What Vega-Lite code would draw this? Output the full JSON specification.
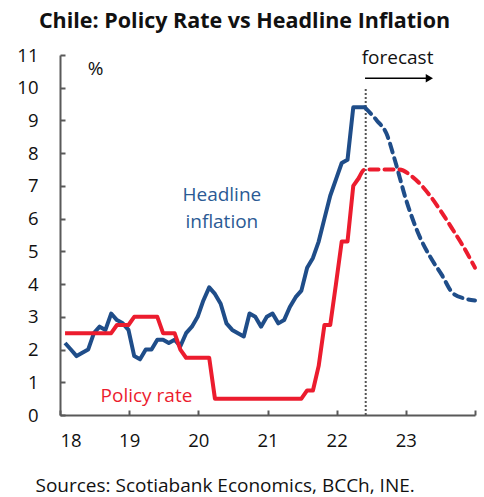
{
  "$schema": "https://vega.github.io/schema/vega-lite/v6.json",
  "width": 415,
  "height": 360,
  "autosize": "none",
  "padding": {"left": 60, "top": 55, "right": 9, "bottom": 82},
  "background": "white",
  "config": {"font": "Open Sans", "view": {"stroke": null}},
  "title": {"text": "Chile: Policy Rate vs Headline Inflation", "font": "Open Sans", "fontSize": 21.5, "fontWeight": "bold", "color": "#111", "anchor": "middle", "dx": -23, "offset": 14},
  "datasets": {
    "series": [
      {"t": 18.073, "v": 2.2, "s": "Inflation", "p": "actual"},
      {"t": 18.157, "v": 2.0, "s": "Inflation", "p": "actual"},
      {"t": 18.24, "v": 1.8, "s": "Inflation", "p": "actual"},
      {"t": 18.323, "v": 1.9, "s": "Inflation", "p": "actual"},
      {"t": 18.407, "v": 2.0, "s": "Inflation", "p": "actual"},
      {"t": 18.49, "v": 2.5, "s": "Inflation", "p": "actual"},
      {"t": 18.573, "v": 2.7, "s": "Inflation", "p": "actual"},
      {"t": 18.657, "v": 2.6, "s": "Inflation", "p": "actual"},
      {"t": 18.74, "v": 3.1, "s": "Inflation", "p": "actual"},
      {"t": 18.823, "v": 2.9, "s": "Inflation", "p": "actual"},
      {"t": 18.907, "v": 2.8, "s": "Inflation", "p": "actual"},
      {"t": 18.99, "v": 2.6, "s": "Inflation", "p": "actual"},
      {"t": 19.073, "v": 1.8, "s": "Inflation", "p": "actual"},
      {"t": 19.157, "v": 1.7, "s": "Inflation", "p": "actual"},
      {"t": 19.24, "v": 2.0, "s": "Inflation", "p": "actual"},
      {"t": 19.323, "v": 2.0, "s": "Inflation", "p": "actual"},
      {"t": 19.407, "v": 2.3, "s": "Inflation", "p": "actual"},
      {"t": 19.49, "v": 2.3, "s": "Inflation", "p": "actual"},
      {"t": 19.573, "v": 2.2, "s": "Inflation", "p": "actual"},
      {"t": 19.657, "v": 2.3, "s": "Inflation", "p": "actual"},
      {"t": 19.74, "v": 2.1, "s": "Inflation", "p": "actual"},
      {"t": 19.823, "v": 2.5, "s": "Inflation", "p": "actual"},
      {"t": 19.907, "v": 2.7, "s": "Inflation", "p": "actual"},
      {"t": 19.99, "v": 3.0, "s": "Inflation", "p": "actual"},
      {"t": 20.073, "v": 3.5, "s": "Inflation", "p": "actual"},
      {"t": 20.157, "v": 3.9, "s": "Inflation", "p": "actual"},
      {"t": 20.24, "v": 3.7, "s": "Inflation", "p": "actual"},
      {"t": 20.323, "v": 3.4, "s": "Inflation", "p": "actual"},
      {"t": 20.407, "v": 2.8, "s": "Inflation", "p": "actual"},
      {"t": 20.49, "v": 2.6, "s": "Inflation", "p": "actual"},
      {"t": 20.573, "v": 2.5, "s": "Inflation", "p": "actual"},
      {"t": 20.657, "v": 2.4, "s": "Inflation", "p": "actual"},
      {"t": 20.74, "v": 3.1, "s": "Inflation", "p": "actual"},
      {"t": 20.823, "v": 3.0, "s": "Inflation", "p": "actual"},
      {"t": 20.907, "v": 2.7, "s": "Inflation", "p": "actual"},
      {"t": 20.99, "v": 3.0, "s": "Inflation", "p": "actual"},
      {"t": 21.073, "v": 3.1, "s": "Inflation", "p": "actual"},
      {"t": 21.157, "v": 2.8, "s": "Inflation", "p": "actual"},
      {"t": 21.24, "v": 2.9, "s": "Inflation", "p": "actual"},
      {"t": 21.323, "v": 3.3, "s": "Inflation", "p": "actual"},
      {"t": 21.407, "v": 3.6, "s": "Inflation", "p": "actual"},
      {"t": 21.49, "v": 3.8, "s": "Inflation", "p": "actual"},
      {"t": 21.573, "v": 4.5, "s": "Inflation", "p": "actual"},
      {"t": 21.657, "v": 4.8, "s": "Inflation", "p": "actual"},
      {"t": 21.74, "v": 5.3, "s": "Inflation", "p": "actual"},
      {"t": 21.823, "v": 6.0, "s": "Inflation", "p": "actual"},
      {"t": 21.907, "v": 6.7, "s": "Inflation", "p": "actual"},
      {"t": 21.99, "v": 7.2, "s": "Inflation", "p": "actual"},
      {"t": 22.073, "v": 7.7, "s": "Inflation", "p": "actual"},
      {"t": 22.157, "v": 7.8, "s": "Inflation", "p": "actual"},
      {"t": 22.24, "v": 9.4, "s": "Inflation", "p": "actual"},
      {"t": 22.323, "v": 9.4, "s": "Inflation", "p": "actual"},
      {"t": 22.407, "v": 9.4, "s": "Inflation", "p": "actual"},
      {"t": 22.407, "v": 9.4, "s": "Inflation", "p": "forecast"},
      {"t": 22.58, "v": 9.0, "s": "Inflation", "p": "forecast"},
      {"t": 22.72, "v": 8.6, "s": "Inflation", "p": "forecast"},
      {"t": 22.84, "v": 7.8, "s": "Inflation", "p": "forecast"},
      {"t": 23.0, "v": 6.6, "s": "Inflation", "p": "forecast"},
      {"t": 23.2, "v": 5.45, "s": "Inflation", "p": "forecast"},
      {"t": 23.35, "v": 4.84, "s": "Inflation", "p": "forecast"},
      {"t": 23.52, "v": 4.28, "s": "Inflation", "p": "forecast"},
      {"t": 23.68, "v": 3.72, "s": "Inflation", "p": "forecast"},
      {"t": 23.85, "v": 3.56, "s": "Inflation", "p": "forecast"},
      {"t": 24.0, "v": 3.5, "s": "Inflation", "p": "forecast"},
      {"t": 18.073, "v": 2.5, "s": "Policy", "p": "actual"},
      {"t": 18.157, "v": 2.5, "s": "Policy", "p": "actual"},
      {"t": 18.24, "v": 2.5, "s": "Policy", "p": "actual"},
      {"t": 18.323, "v": 2.5, "s": "Policy", "p": "actual"},
      {"t": 18.407, "v": 2.5, "s": "Policy", "p": "actual"},
      {"t": 18.49, "v": 2.5, "s": "Policy", "p": "actual"},
      {"t": 18.573, "v": 2.5, "s": "Policy", "p": "actual"},
      {"t": 18.657, "v": 2.5, "s": "Policy", "p": "actual"},
      {"t": 18.74, "v": 2.5, "s": "Policy", "p": "actual"},
      {"t": 18.823, "v": 2.75, "s": "Policy", "p": "actual"},
      {"t": 18.907, "v": 2.75, "s": "Policy", "p": "actual"},
      {"t": 18.99, "v": 2.75, "s": "Policy", "p": "actual"},
      {"t": 19.073, "v": 3.0, "s": "Policy", "p": "actual"},
      {"t": 19.157, "v": 3.0, "s": "Policy", "p": "actual"},
      {"t": 19.24, "v": 3.0, "s": "Policy", "p": "actual"},
      {"t": 19.323, "v": 3.0, "s": "Policy", "p": "actual"},
      {"t": 19.407, "v": 3.0, "s": "Policy", "p": "actual"},
      {"t": 19.49, "v": 2.5, "s": "Policy", "p": "actual"},
      {"t": 19.573, "v": 2.5, "s": "Policy", "p": "actual"},
      {"t": 19.657, "v": 2.5, "s": "Policy", "p": "actual"},
      {"t": 19.74, "v": 2.0, "s": "Policy", "p": "actual"},
      {"t": 19.823, "v": 1.75, "s": "Policy", "p": "actual"},
      {"t": 19.907, "v": 1.75, "s": "Policy", "p": "actual"},
      {"t": 19.99, "v": 1.75, "s": "Policy", "p": "actual"},
      {"t": 20.073, "v": 1.75, "s": "Policy", "p": "actual"},
      {"t": 20.157, "v": 1.75, "s": "Policy", "p": "actual"},
      {"t": 20.24, "v": 0.5, "s": "Policy", "p": "actual"},
      {"t": 20.323, "v": 0.5, "s": "Policy", "p": "actual"},
      {"t": 20.407, "v": 0.5, "s": "Policy", "p": "actual"},
      {"t": 20.49, "v": 0.5, "s": "Policy", "p": "actual"},
      {"t": 20.573, "v": 0.5, "s": "Policy", "p": "actual"},
      {"t": 20.657, "v": 0.5, "s": "Policy", "p": "actual"},
      {"t": 20.74, "v": 0.5, "s": "Policy", "p": "actual"},
      {"t": 20.823, "v": 0.5, "s": "Policy", "p": "actual"},
      {"t": 20.907, "v": 0.5, "s": "Policy", "p": "actual"},
      {"t": 20.99, "v": 0.5, "s": "Policy", "p": "actual"},
      {"t": 21.073, "v": 0.5, "s": "Policy", "p": "actual"},
      {"t": 21.157, "v": 0.5, "s": "Policy", "p": "actual"},
      {"t": 21.24, "v": 0.5, "s": "Policy", "p": "actual"},
      {"t": 21.323, "v": 0.5, "s": "Policy", "p": "actual"},
      {"t": 21.407, "v": 0.5, "s": "Policy", "p": "actual"},
      {"t": 21.49, "v": 0.5, "s": "Policy", "p": "actual"},
      {"t": 21.573, "v": 0.75, "s": "Policy", "p": "actual"},
      {"t": 21.657, "v": 0.75, "s": "Policy", "p": "actual"},
      {"t": 21.74, "v": 1.5, "s": "Policy", "p": "actual"},
      {"t": 21.823, "v": 2.75, "s": "Policy", "p": "actual"},
      {"t": 21.907, "v": 2.75, "s": "Policy", "p": "actual"},
      {"t": 21.99, "v": 4.0, "s": "Policy", "p": "actual"},
      {"t": 22.073, "v": 5.3, "s": "Policy", "p": "actual"},
      {"t": 22.157, "v": 5.3, "s": "Policy", "p": "actual"},
      {"t": 22.24, "v": 7.0, "s": "Policy", "p": "actual"},
      {"t": 22.323, "v": 7.25, "s": "Policy", "p": "actual"},
      {"t": 22.323, "v": 7.25, "s": "Policy", "p": "forecast"},
      {"t": 22.407, "v": 7.5, "s": "Policy", "p": "forecast"},
      {"t": 22.55, "v": 7.5, "s": "Policy", "p": "forecast"},
      {"t": 22.75, "v": 7.5, "s": "Policy", "p": "forecast"},
      {"t": 22.9, "v": 7.5, "s": "Policy", "p": "forecast"},
      {"t": 23.1, "v": 7.27, "s": "Policy", "p": "forecast"},
      {"t": 23.35, "v": 6.7, "s": "Policy", "p": "forecast"},
      {"t": 23.5, "v": 6.25, "s": "Policy", "p": "forecast"},
      {"t": 23.68, "v": 5.66, "s": "Policy", "p": "forecast"},
      {"t": 23.83, "v": 5.15, "s": "Policy", "p": "forecast"},
      {"t": 24.0, "v": 4.5, "s": "Policy", "p": "forecast"}
    ],
    "labels": [
      {"t": 20.34, "v": 6.73, "text": ["Headline", "inflation"], "c": "#2b5a94"},
      {"t": 19.25, "v": 0.58, "text": "Policy rate", "c": "#ec1c2e"},
      {"t": 22.88, "v": 10.92, "text": "forecast", "c": "#111111"}
    ],
    "arrow": [{"t": 22.41, "t2": 23.3, "v": 10.29}],
    "arrowhead": [{"t": 23.34, "v": 10.29}],
    "divider": [{"t": 22.42, "v": 0, "v2": 9.97}]
  },
  "encoding": {
    "x": {"field": "t", "type": "quantitative", "scale": {"domain": [18, 24], "nice": false, "zero": false},
      "axis": {"values": [18, 19, 20, 21, 22, 23, 24], "labelExpr": "datum.value == 24 ? '' : datum.value", "grid": false,
        "domainColor": "#595959", "domainWidth": 2, "tickColor": "#595959", "tickWidth": 2, "tickSize": -5,
        "labelFontSize": 18.5, "labelColor": "#111111", "labelPadding": 21, "labelFont": "Open Sans",
        "title": "Sources: Scotiabank Economics, BCCh, INE.", "titleFont": "Open Sans", "titleFontSize": 19, "titleFontWeight": "normal",
        "titleColor": "#111111", "titleX": -25, "titleY": 70, "titleAlign": "left", "titleBaseline": "middle"}},
    "y": {"field": "v", "type": "quantitative", "scale": {"domain": [0, 11], "nice": false},
      "axis": {"values": [0, 1, 2, 3, 4, 5, 6, 7, 8, 9, 10, 11], "grid": false,
        "domainColor": "#595959", "domainWidth": 2, "tickColor": "#595959", "tickWidth": 2, "tickSize": -5,
        "labelFontSize": 18.5, "labelColor": "#111111", "labelPadding": 27, "labelFont": "Open Sans",
        "title": "%", "titleAngle": 0, "titleFont": "Open Sans", "titleFontSize": 19, "titleFontWeight": "normal",
        "titleColor": "#111111", "titleX": 35, "titleY": 13, "titleAlign": "center", "titleBaseline": "middle"}}
  },
  "layer": [
    {
      "data": {"name": "divider"},
      "mark": {"type": "rule", "color": "#555555", "strokeWidth": 2, "strokeDash": [2, 2]},
      "encoding": {
        "y2": {"field": "v2"}
      }
    },
    {
      "data": {"name": "series"},
      "transform": [{"filter": "datum.p === 'actual'"}],
      "mark": {"type": "line", "strokeWidth": 4, "strokeJoin": "round", "strokeCap": "butt"},
      "encoding": {
        "detail": {"field": "s"},
        "color": {"field": "s", "type": "nominal", "scale": {"domain": ["Inflation", "Policy"], "range": ["#1f4d89", "#ec1c2e"]}, "legend": null}
      }
    },
    {
      "data": {"name": "series"},
      "transform": [{"filter": "datum.p === 'forecast'"}],
      "mark": {"type": "line", "strokeWidth": 4, "strokeDash": [9, 6], "strokeCap": "round", "interpolate": "monotone"},
      "encoding": {
        "detail": {"field": "s"},
        "color": {"field": "s", "type": "nominal", "legend": null}
      }
    },
    {
      "data": {"name": "arrow"},
      "mark": {"type": "rule", "color": "#000000", "strokeWidth": 1.5},
      "encoding": {
        "x2": {"field": "t2"}
      }
    },
    {
      "data": {"name": "arrowhead"},
      "mark": {"type": "point", "shape": "triangle-right", "filled": true, "color": "#000000", "size": 70, "opacity": 1},
      "encoding": {}
    },
    {
      "data": {"name": "labels"},
      "mark": {"type": "text", "font": "Open Sans", "fontSize": 19, "align": "center", "baseline": "middle", "lineHeight": 27},
      "encoding": {
        "text": {"field": "text"},
        "color": {"field": "c", "type": "nominal", "scale": null}
      }
    }
  ]
}
